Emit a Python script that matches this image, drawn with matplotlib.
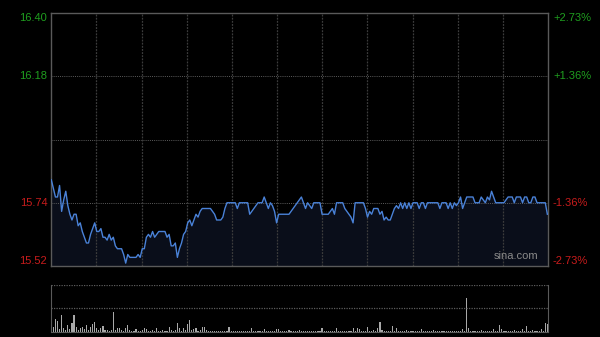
import matplotlib
matplotlib.use("Agg")
import matplotlib.pyplot as plt
import numpy as np

plt.rcParams['font.family'] = ['Liberation Sans', 'DejaVu Sans']

# price in cents above 15.00 (e.g. 74 -> 15.74), one point per minute
price_cents = [
    82, 79, 76, 76, 80, 71, 75, 78, 73, 70, 68, 70, 70, 66, 67, 64, 62, 60, 60, 63,
    65, 67, 64, 64, 65, 62, 62, 61, 63, 61, 62, 59, 58, 58, 58, 56, 53, 56, 55, 55,
    55, 55, 56, 55, 58, 58, 62, 63, 62, 64, 62, 63, 64, 64, 64, 64, 62, 63, 59, 59,
    60, 55, 58, 60, 63, 64, 67, 68, 66, 68, 70, 69, 71, 72, 72, 72, 72, 72, 71, 70,
    68, 68, 68, 69, 72, 74, 74, 74, 74, 74, 72, 74, 74, 74, 74, 74, 70, 71, 72, 73,
    74, 74, 74, 76, 74, 72, 74, 73, 71, 67, 70, 70, 70, 70, 70, 70, 71, 72, 73, 74,
    75, 76, 74, 72, 74, 73, 72, 74, 74, 74, 74, 70, 70, 70, 70, 71, 72, 70, 74, 74,
    74, 74, 72, 71, 70, 69, 67, 74, 74, 74, 74, 74, 72, 69, 71, 70, 72, 72, 72, 70,
    71, 68, 69, 68, 68, 70, 72, 73, 72, 74, 72, 74, 72, 74, 72, 74, 74, 74, 72, 74,
    74, 72, 74, 74, 74, 74, 74, 74, 72, 74, 74, 74, 72, 74, 72, 74, 73, 74, 76, 72,
    74, 76, 76, 76, 76, 74, 74, 74, 76, 75, 74, 76, 75, 78, 76, 74, 74, 74, 74, 74,
    75, 76, 76, 76, 74, 76, 76, 76, 74, 76, 76, 74, 74, 76, 76, 74, 74, 74, 74, 74,
    70,
]

volume = [
    1670, 500, 1300, 1070, 300, 1670, 330, 200, 670, 250, 830, 1670, 500, 200, 400, 500, 250, 670, 200, 500,
    730, 1000, 330, 150, 330, 600, 150, 170, 120, 150, 2000, 200, 330, 330, 150, 120, 400, 670, 170, 120,
    100, 230, 120, 100, 150, 330, 270, 120, 100, 150, 120, 330, 100, 120, 150, 100, 120, 500, 150, 120,
    150, 830, 330, 120, 330, 150, 770, 1170, 150, 270, 330, 120, 150, 430, 430, 170, 100, 120, 80, 100,
    120, 100, 80, 100, 120, 100, 500, 100, 80, 100, 120, 80, 100, 120, 100, 80, 100, 330, 100, 80,
    100, 120, 80, 230, 100, 80, 100, 120, 100, 230, 230, 100, 80, 100, 120, 170, 100, 80, 100, 80,
    170, 100, 80, 100, 120, 80, 100, 100, 80, 120, 100, 400, 100, 80, 120, 100, 80, 100, 400, 120,
    100, 80, 120, 100, 80, 120, 400, 100, 330, 230, 100, 80, 120, 430, 100, 80, 170, 100, 330, 1000,
    150, 120, 100, 80, 120, 600, 100, 330, 120, 80, 100, 120, 170, 100, 80, 100, 120, 80, 100, 270,
    100, 80, 120, 100, 80, 170, 100, 120, 80, 100, 120, 80, 100, 120, 80, 100, 120, 100, 80, 270,
    120, 3330, 330, 100, 120, 80, 100, 120, 170, 100, 80, 120, 100, 80, 270, 100, 120, 670, 270, 100,
    80, 120, 100, 80, 170, 100, 120, 80, 230, 100, 600, 120, 100, 170, 80, 100, 120, 230, 100, 830, 730,
]

left_labels = ["16.40", "16.18", "15.74", "15.52"]
left_values = [16.40, 16.18, 15.74, 15.52]
right_labels = ["+2.73%", "+1.36%", "-1.36%", "-2.73%"]
prev_close = 15.96
y_min, y_max = 15.52, 16.40

prices = np.array(price_cents) / 100.0 + 15.0
idx = np.arange(len(prices))

BG = "#000000"
HGRID = "#5c5c5c"
VGRID = "#3c3c3c"
BORDER = "#5a5a5a"
GREEN = "#1f9e1f"
RED = "#c81c1c"
LINE = "#4a82d8"

fig = plt.figure(figsize=(6.0, 3.37), dpi=100, facecolor=BG)
ax = fig.add_axes([0.0855, 0.2107, 0.8278, 0.7507], facecolor=BG)
axv = fig.add_axes([0.0855, 0.0157, 0.8278, 0.1386], facecolor=BG)

xmax = len(prices) - 1 + 0.3
ax.set_xlim(0, xmax)
ax.set_ylim(y_min, y_max)

# fill below line
ax.fill_between(idx, prices, y_min, color="#0a0e1a", lw=0, zorder=1)
ax.plot(idx, prices, color=LINE, lw=1.0, zorder=3)

# grid
for v in [16.18, prev_close, 15.74]:
    ax.axhline(v, color=HGRID, lw=0.7, ls=(0, (1, 1.2)), zorder=2)
for k in range(1, 11):
    ax.axvline(xmax * k / 11.0, color=VGRID, lw=0.9, ls=(0, (1.5, 1.0)), zorder=2)

for s in ax.spines.values():
    s.set_color(BORDER)
    s.set_linewidth(1.0)
ax.set_xticks([])
ax.set_yticks([])

# labels
colors = [GREEN, GREEN, RED, RED]
offsets = [-5, 0, 0, 5]
for lab, val, rl, c, off in zip(left_labels, left_values, right_labels, colors, offsets):
    ax.annotate(lab, xy=(0, val), xycoords=("axes fraction", "data"),
                xytext=(-4, off), textcoords="offset pixels",
                ha="right", va="center", color=c, fontsize=8)
    ax.annotate(rl, xy=(1, val), xycoords=("axes fraction", "data"),
                xytext=(5, off), textcoords="offset pixels",
                ha="left", va="center", color=c, fontsize=8)

ax.text(0.98, 0.018, "sina.com", transform=ax.transAxes, ha="right", va="bottom",
        color="#8a8a8a", fontsize=8)

# volume
vol = np.array(volume)
axv.bar(idx, vol, width=0.55, color="#a8a8a8", lw=0)
vmax = vol.max() * 1.4
axv.set_xlim(0, xmax)
axv.set_ylim(0, vmax)
axv.axhline(vmax, color=HGRID, lw=0.9, ls=(0, (1, 1)))
axv.axhline(vmax / 2, color=HGRID, lw=0.9, ls=(0, (1, 1)))
axv.spines["top"].set_visible(False)
for k in ["left", "right", "bottom"]:
    axv.spines[k].set_color(BORDER)
axv.set_xticks([])
axv.set_yticks([])

fig.savefig("out.png", dpi=100, facecolor=BG)
